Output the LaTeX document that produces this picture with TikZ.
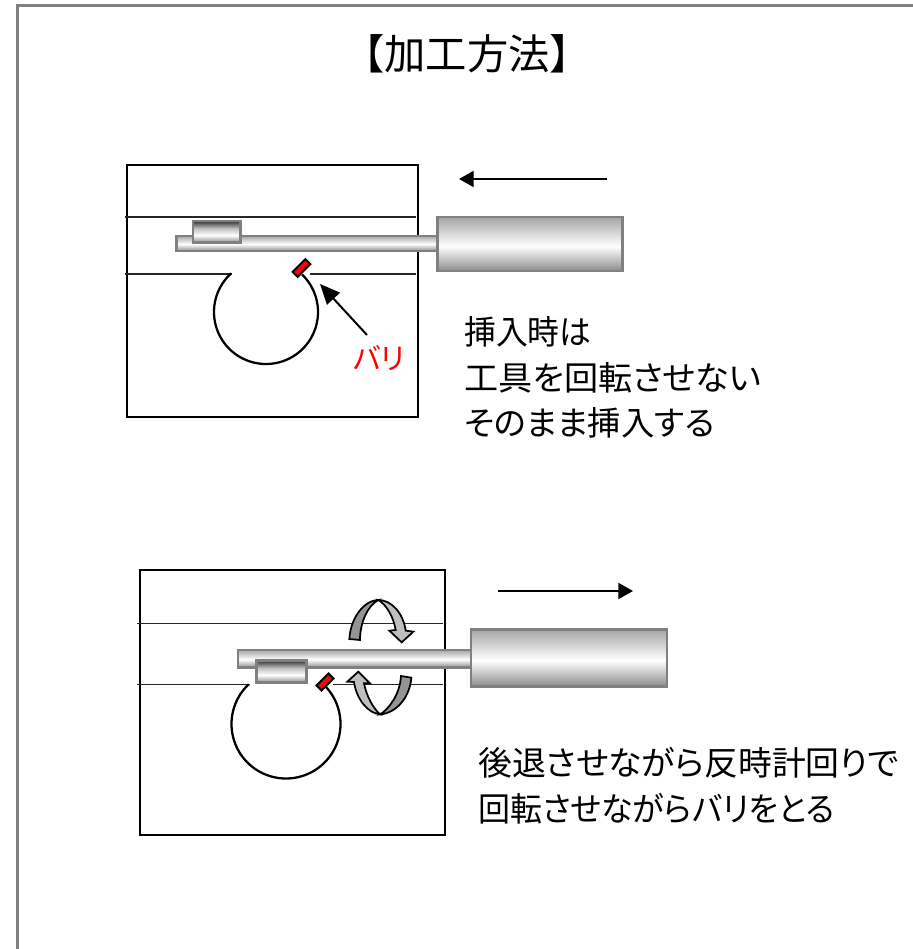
\documentclass[tikz,border=0pt]{standalone}
\usepackage{fontspec}
\setmainfont[RawFeature=+palt]{Noto Sans CJK JP}
\newfontfamily\titlefont{Noto Sans CJK JP}
\usetikzlibrary{arrows.meta}
\pgfdeclareverticalshading{barshade}{100bp}{
  color(0bp)=(black!45); color(25bp)=(black!45); color(48bp)=(white); color(75bp)=(black!35); color(100bp)=(black!35)}
\pgfdeclareverticalshading{collarshade}{100bp}{
  color(0bp)=(black!45); color(25bp)=(black!45); color(42bp)=(white); color(58bp)=(black!25); color(75bp)=(black!80); color(100bp)=(black!80)}
\tikzset{
  px/.style={x=0.75pt,y=-0.75pt},
  frameline/.style={draw=black!50,line width=2.25pt},
  boxline/.style={draw=black,line width=1.6pt},
  thinline/.style={draw=black!85,line width=1pt},
  bore/.style={draw=black,line width=1.7pt},
  toolbar/.style={draw=black!50,line width=2.1pt,shading=barshade},
  collar/.style={draw=black!50,line width=2.1pt,shading=collarshade},
  burr/.style={draw=black,line width=1.5pt,fill=red},
  movearrow/.style={draw=black,line width=1.5pt,-{Triangle[length=11pt,width=12pt]}},
  burrarrow/.style={draw=black,line width=1.5pt,-{Triangle[length=15pt,width=13pt]}},
  darkturn/.style={draw=black,line width=1.3pt,fill=black!42,line join=miter},
  lightturn/.style={draw=black,line width=1.3pt,fill=black!25,line join=miter},
  bodytext/.style={anchor=west,font=\fontsize{25}{28}\selectfont,inner sep=0pt},
}
\begin{document}
\begin{tikzpicture}[px]
\useasboundingbox (0,0) rectangle (913,949);
% frame
\draw[frameline] (17,949) -- (17,6) -- (913,6);
\node (title) at (467,54) {\titlefont\fontsize{31}{34}\selectfont 【加工方法】};

% ---------- upper figure
\draw[boxline] (127,165) rectangle (418,417);
\draw[thinline] (125,217) -- (416,217);
\draw[thinline] (125,274) -- (232,274);
\draw[thinline] (310,274) -- (416,274);
\draw[bore] plot[domain=-46:228,samples=120] ({266+52*cos(\x)},{312+52*sin(\x)});
\draw[toolbar] (176.5,236) rectangle (437,251);
\draw[collar] (193,221) rectangle (240.5,242.5);
\draw[toolbar] (437.5,217) rectangle (622.5,271);
\draw[burr,rotate around={45:(301.5,268)}] (292.5,264.5) rectangle (310.5,271.5);
\coordinate (mv1s) at (607,179);
\coordinate (mv1e) at (459,179);
\draw[movearrow] (mv1s) -- (mv1e);
\node[text=red,font=\fontsize{22}{26}\selectfont,inner sep=0pt] (bari) at (379,358) {バリ};
\coordinate (burrtip) at (320,284);
\coordinate (burrtail) at (367,335);
\draw[burrarrow] (burrtail) -- (burrtip);
\node[bodytext] (t1) at (464,332) {\scalebox{0.955}[1]{挿入時は}};
\node[bodytext] (t2) at (464,378) {\scalebox{1.024}[1]{工具を回転させない}};
\node[bodytext] (t3) at (464,423) {そのまま挿入する};

% ---------- lower figure
\draw[boxline] (140,570) rectangle (445,835);
\draw[thinline] (137,623.5) -- (443,623.5);
\draw[thinline] (137,684.5) -- (250,684.5);
\draw[thinline] (333,684.5) -- (443,684.5);
\draw[bore] plot[domain=-45:227,samples=120] ({286+54.5*cos(\x)},{724+54.5*sin(\x)});
\draw[toolbar] (238,650) rectangle (471,667.5);
\draw[collar] (256.5,660.5) rectangle (306.5,682.5);
\draw[toolbar] (471,629.5) rectangle (667,686.5);
\draw[burr,rotate around={45:(325,682)}] (316.5,678.5) rectangle (333.5,685.5);
\coordinate (mv2s) at (498,591);
\coordinate (mv2e) at (633,591);
\draw[movearrow] (mv2s) -- (mv2e);
\begin{scope}[x=0.25pt,y=-0.25pt,shift={(165pt,-435pt)}]
  \draw[darkturn] (388,177) .. controls (392,110) and (435,60) .. (475,60)
     .. controls (445,75) and (420,125) .. (420,180) -- cycle;
  \draw[lightturn] (475,60) .. controls (515,60) and (550,100) .. (557,152)
     -- (580,155) -- (545,187) -- (508,152) -- (527,150)
     .. controls (520,110) and (500,75) .. (475,60) -- cycle;
  \draw[darkturn] (480,403) .. controls (530,400) and (570,350) .. (574,293)
     -- (543,288) .. controls (540,340) and (510,385) .. (480,403) -- cycle;
  \draw[lightturn] (480,403) .. controls (445,400) and (410,360) .. (402,306)
     -- (382,305) -- (415,275) -- (450,310) -- (432,310)
     .. controls (440,350) and (460,385) .. (480,403) -- cycle;
\end{scope}
\node[bodytext] (t4) at (478,763) {\scalebox{1.015}[1]{後退させながら反時計回りで}};
\node[bodytext] (t5) at (478,809) {\scalebox{0.96}[1]{回転させながらバリをとる}};
\end{tikzpicture}
\end{document}
